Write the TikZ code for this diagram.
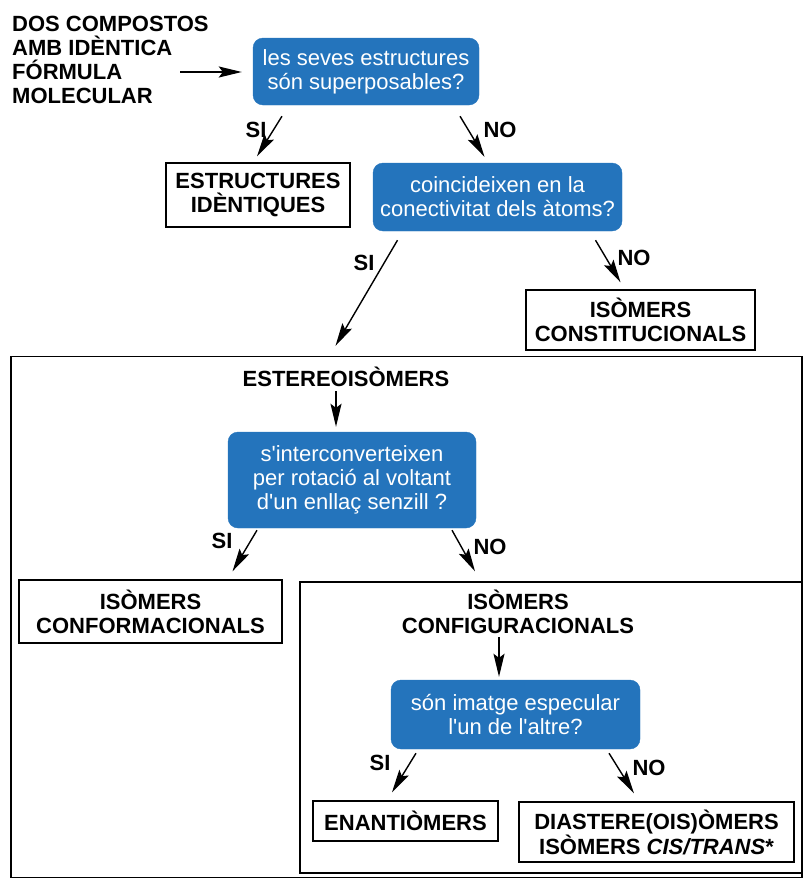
\documentclass[tikz,border=0pt]{standalone}
\usepackage{fontspec}
\setmainfont{Liberation Sans}
\usetikzlibrary{arrows.meta,calc}
\definecolor{qblue}{RGB}{36,116,188}
\newcommand{\ap}{\textquotesingle}
\tikzset{
  arr/.style={line width=1.4pt,-{Stealth[length=23pt,width=11pt,inset=4pt]}},
  qbox/.style={fill=qblue,draw=qblue,rounded corners=10pt,text=white,align=center,
    font=\fontsize{22}{24}\selectfont,inner sep=0pt},
  abox/.style={draw,line width=1.4pt,align=center,font=\fontsize{22}{24}\selectfont\bfseries,inner sep=0pt},
  frame/.style={draw,line width=1.4pt,inner sep=0pt},
  lbl/.style={font=\fontsize{22}{24}\selectfont\bfseries,inner sep=0pt,align=center},
}
\begin{document}
\begin{tikzpicture}[x=1pt,y=-1pt]
\useasboundingbox (0,0) rectangle (803,878);
% frames
\node[frame,minimum width=791pt,minimum height=521pt] (stereo) at (406.5,617) {};
\node[frame,minimum width=502pt,minimum height=291pt] (config) at (551,727.5) {};
% intro text
\node[lbl,anchor=north west,align=left] (intro) at (12,16) {DOS COMPOSTOS\\AMB IDÈNTICA\\FÓRMULA\\MOLECULAR};
% question boxes
\node[qbox,minimum width=226pt,minimum height=67pt] (q1) at (366,71.5) {les seves estructures\\són superposables?};
\node[qbox,minimum width=249pt,minimum height=68pt] (q2) at (497.5,197) {coincideixen en la\\conectivitat dels àtoms?};
\node[qbox,minimum width=248pt,minimum height=96pt] (q3) at (352,480) {s\ap interconverteixen\\per rotació al voltant\\d\ap un enllaç senzill ?};
\node[qbox,minimum width=249pt,minimum height=69pt] (q4) at (515.5,714.5) {són imatge especular\\l\ap un de l\ap altre?};
% answer boxes
\node[abox,minimum width=184pt,minimum height=64pt] (ident) at (258,195) {ESTRUCTURES\\IDÈNTIQUES};
\node[abox,minimum width=229pt,minimum height=60pt] (const) at (640.5,320) {ISÒMERS\\CONSTITUCIONALS};
\node[abox,minimum width=263pt,minimum height=63pt] (conf) at (150.5,611.5) {ISÒMERS\\CONFORMACIONALS};
\node[abox,minimum width=185pt,minimum height=40pt] (enan) at (405.5,821) {ENANTIÒMERS};
\node[abox,minimum width=275pt,minimum height=60pt] (dia) at (656.5,832) {DIASTERE(OIS)ÒMERS\\ISÒMERS \textit{CIS/TRANS}*};
% titles inside frames
\node[lbl] (stt) at (346,377) {ESTEREOISÒMERS};
\node[lbl] (cft) at (518,612) {ISÒMERS\\CONFIGURACIONALS};
% labels
\node[lbl] at (256,130) {SI};
\node[lbl] at (500,130) {NO};
\node[lbl] at (364,263) {SI};
\node[lbl] at (634,258) {NO};
\node[lbl] at (222,541) {SI};
\node[lbl] at (490,547) {NO};
\node[lbl] at (380,763) {SI};
\node[lbl] at (649,768) {NO};
% connectors
\coordinate (entry) at (180,72);
\draw[arr] (entry) -- ($(q1.west)+(-11,0.5)$);
\draw[arr] ($(q1.south)+(-84,11)$) -- ($(ident.north)+(-1,-6)$);
\draw[arr] ($(q1.south)+(94,11)$) -- ($(q2.north)+(-13,-6)$);
\draw[arr] ($(q2.south)+(-100,9)$) -- ($(stereo.north)+(-71,-10)$);
\draw[arr] ($(q2.south)+(98,9)$) -- ($(const.north)+(-20,-7)$);
\draw[arr] ($(stt.south)+(-10,4)$) -- ($(q3.north)+(-16,-5)$);
\draw[arr] ($(q3.south)+(-95,2)$) -- ($(conf.north)+(82,-8)$);
\draw[arr] ($(q3.south)+(100,2)$) -- ($(config.north)+(-76,-10)$);
\draw[arr] ($(cft.south)+(-19,3)$) -- ($(q4.north)+(-16.5,-3)$);
\draw[arr] ($(q4.south)+(-99.5,4)$) -- ($(enan.north)+(-13.5,-8)$);
\draw[arr] ($(q4.south)+(93.5,4)$) -- ($(dia.north)+(-22.5,-8)$);
\end{tikzpicture}
\end{document}
